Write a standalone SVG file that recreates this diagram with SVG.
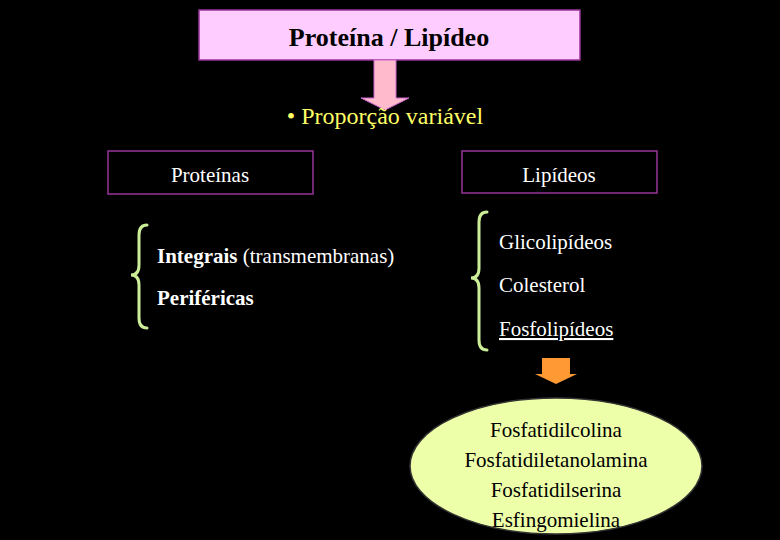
<svg xmlns="http://www.w3.org/2000/svg" width="780" height="540" viewBox="0 0 780 540">
<style>
.t{font-family:"Liberation Serif",serif;font-size:21px;fill:#fff}
.b{font-weight:bold}
.box{fill:#000;stroke:#993399;stroke-width:1.5}
.br{fill:none;stroke:#ccee99;stroke-width:3;stroke-linecap:round}
.k{font-family:"Liberation Serif",serif;font-size:21px;fill:#000;text-anchor:middle}
</style>
<rect width="780" height="540" fill="#000"/>
<g id="title"><rect x="199" y="10" width="381" height="50" fill="#ffccff" stroke="#993399" stroke-width="1.5"/>
<text x="389" y="46" class="k b" style="font-size:26px">Proteína / Lipídeo</text></g>
<g id="connectors">
<path d="M374,60 H396 V98 H409 L385,110 L361,98 H374 Z" fill="#ffbbcc" stroke="#cc66cc" stroke-width="1"/>
<path d="M542,358 H570 V374 H577 L556,384 L535,374 H542 Z" fill="#ff9933"/>
</g>
<g id="subtitle"><text x="385" y="124" class="t" style="fill:#ffff66;font-size:24px;text-anchor:middle">• Proporção variável</text></g>
<g id="proteinas"><rect x="108" y="151" width="205" height="43" class="box"/><text x="210" y="182" class="t" style="text-anchor:middle">Proteínas</text></g>
<g id="lipideos"><rect x="462" y="151" width="195" height="42" class="box"/><text x="559" y="182" class="t" style="text-anchor:middle">Lipídeos</text></g>
<g id="protlist">
<path class="br" d="M147,225 Q139,225 139,235 V265 Q139,275 131,275 Q139,275 139,285 V318 Q139,328 147,328"/>
<text x="157" y="263" class="t"><tspan class="b">Integrais</tspan> (transmembranas)</text>
<text x="157" y="305" class="t b">Periféricas</text>
</g>
<g id="lipidlist">
<path class="br" d="M487,212 Q479,212 479,222 V268 Q479,278 471,278 Q479,278 479,288 V340 Q479,350 487,350"/>
<text x="499" y="249" class="t">Glicolipídeos</text>
<text x="499" y="292" class="t">Colesterol</text>
<text x="499" y="336" class="t" text-decoration="underline">Fosfolipídeos</text>
</g>
<g id="fosfo">
<ellipse cx="556" cy="466" rx="146" ry="68" fill="#eeffaa" stroke="#333" stroke-width="1.5"/>
<text class="k" x="556" y="437">Fosfatidilcolina</text>
<text class="k" x="556" y="467">Fosfatidiletanolamina</text>
<text class="k" x="556" y="497">Fosfatidilserina</text>
<text class="k" x="556" y="527">Esfingomielina</text>
</g>
</svg>
